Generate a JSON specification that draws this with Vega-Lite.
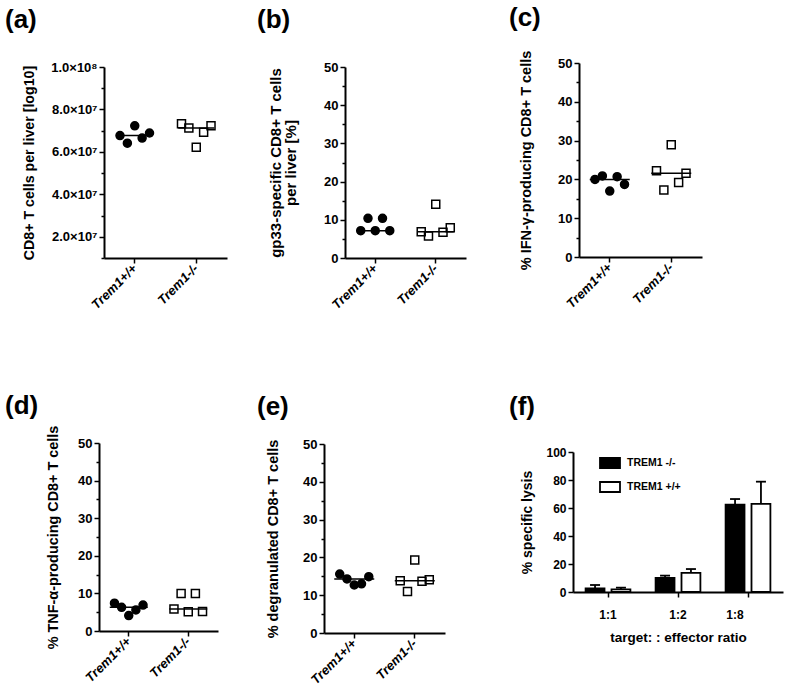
{
  "$schema": "https://vega.github.io/schema/vega-lite/v6.json",
  "background": "white",
  "padding": 5,
  "datasets": {
    "a": [
      {"group": "Trem1+/+", "id": 1, "value": 67700000},
      {"group": "Trem1+/+", "id": 2, "value": 64100000},
      {"group": "Trem1+/+", "id": 3, "value": 72300000},
      {"group": "Trem1+/+", "id": 4, "value": 66500000},
      {"group": "Trem1+/+", "id": 5, "value": 68900000},
      {"group": "Trem1-/-", "id": 1, "value": 73300000},
      {"group": "Trem1-/-", "id": 2, "value": 71200000},
      {"group": "Trem1-/-", "id": 3, "value": 62200000},
      {"group": "Trem1-/-", "id": 4, "value": 69300000},
      {"group": "Trem1-/-", "id": 5, "value": 72300000}
    ],
    "b": [
      {"group": "Trem1+/+", "id": 1, "value": 7.15},
      {"group": "Trem1+/+", "id": 2, "value": 10.4},
      {"group": "Trem1+/+", "id": 3, "value": 7.15},
      {"group": "Trem1+/+", "id": 4, "value": 10.4},
      {"group": "Trem1+/+", "id": 5, "value": 7.15},
      {"group": "Trem1-/-", "id": 1, "value": 6.9},
      {"group": "Trem1-/-", "id": 2, "value": 5.76},
      {"group": "Trem1-/-", "id": 3, "value": 14.06},
      {"group": "Trem1-/-", "id": 4, "value": 6.72},
      {"group": "Trem1-/-", "id": 5, "value": 7.94}
    ],
    "c": [
      {"group": "Trem1+/+", "id": 1, "value": 20.0},
      {"group": "Trem1+/+", "id": 2, "value": 20.9},
      {"group": "Trem1+/+", "id": 3, "value": 17.0},
      {"group": "Trem1+/+", "id": 4, "value": 20.7},
      {"group": "Trem1+/+", "id": 5, "value": 18.7},
      {"group": "Trem1-/-", "id": 1, "value": 22.2},
      {"group": "Trem1-/-", "id": 2, "value": 17.3},
      {"group": "Trem1-/-", "id": 3, "value": 28.9},
      {"group": "Trem1-/-", "id": 4, "value": 19.2},
      {"group": "Trem1-/-", "id": 5, "value": 21.6}
    ],
    "d": [
      {"group": "Trem1+/+", "id": 1, "value": 7.4},
      {"group": "Trem1+/+", "id": 2, "value": 6.3},
      {"group": "Trem1+/+", "id": 3, "value": 4.1},
      {"group": "Trem1+/+", "id": 4, "value": 5.6},
      {"group": "Trem1+/+", "id": 5, "value": 6.9},
      {"group": "Trem1-/-", "id": 1, "value": 5.85},
      {"group": "Trem1-/-", "id": 2, "value": 10.0},
      {"group": "Trem1-/-", "id": 3, "value": 5.15},
      {"group": "Trem1-/-", "id": 4, "value": 10.0},
      {"group": "Trem1-/-", "id": 5, "value": 5.2}
    ],
    "e": [
      {"group": "Trem1+/+", "id": 1, "value": 15.6},
      {"group": "Trem1+/+", "id": 2, "value": 14.3},
      {"group": "Trem1+/+", "id": 3, "value": 12.7},
      {"group": "Trem1+/+", "id": 4, "value": 13.0},
      {"group": "Trem1+/+", "id": 5, "value": 14.9},
      {"group": "Trem1-/-", "id": 1, "value": 13.8},
      {"group": "Trem1-/-", "id": 2, "value": 11.0},
      {"group": "Trem1-/-", "id": 3, "value": 19.3},
      {"group": "Trem1-/-", "id": 4, "value": 13.7},
      {"group": "Trem1-/-", "id": 5, "value": 14.1}
    ],
    "f": [
      {"ratio": "1:1", "genotype": "TREM1 -/-", "mean": 2.6, "upper": 5.0},
      {"ratio": "1:1", "genotype": "TREM1 +/+", "mean": 1.9, "upper": 3.1},
      {"ratio": "1:2", "genotype": "TREM1 -/-", "mean": 10.0, "upper": 11.7},
      {"ratio": "1:2", "genotype": "TREM1 +/+", "mean": 13.6, "upper": 16.4},
      {"ratio": "1:8", "genotype": "TREM1 -/-", "mean": 62.4, "upper": 66.4},
      {"ratio": "1:8", "genotype": "TREM1 +/+", "mean": 62.9, "upper": 78.8}
    ]
  },
  "spacing": 81,
  "resolve": {"scale": {"xOffset": "independent", "fill": "independent", "shape": "independent"}, "legend": {"fill": "independent", "shape": "independent"}},
  "vconcat": [
    {
      "spacing": 0,
      "bounds": "flush",
      "resolve": {"scale": {"xOffset": "independent", "fill": "independent", "shape": "independent"}, "legend": {"fill": "independent", "shape": "independent"}},
      "hconcat": [
        {"width": 5, "height": 1, "data": {"values": [{}]}, "mark": {"type": "point", "opacity": 0}, "encoding": {}},
        {
          "width": 123, "height": 195,
          "data": {"name": "a"},
          "title": {"text": "(a)", "dx": -99, "offset": 28.5},
          "encoding": {
            "x": {"field": "group", "type": "nominal", "sort": ["Trem1+/+", "Trem1-/-"], "scale": {"type": "band", "paddingInner": 0.4, "paddingOuter": 0.2}, "axis": {"ticks": true}},
            "y": {"field": "value", "type": "quantitative", "scale": {"domain": [10000000, 100000000], "range": [195, 4], "nice": false, "zero": false},
                  "axis": {"title": "CD8+ T cells per liver [log10]", "titlePadding": 14, "titleFontSize": 14.2,
                           "values": [10000000, 20000000, 30000000, 40000000, 50000000, 60000000, 70000000, 80000000, 90000000, 100000000],
                           "labelExpr": "datum.value % 20000000 == 0 ? (datum.value == 100000000 ? '1.0×10⁸' : format(datum.value / 10000000, '.1f') + '×10⁷') : ''",
                           "labelFontSize": 13,
                           "tickSize": {"condition": {"test": "datum.value % 20000000 != 0", "value": 3}, "value": 5}}}
          },
          "layer": [
            {"transform": [{"aggregate": [{"op": "median", "field": "value", "as": "value"}], "groupby": ["group"]}],
             "mark": {"type": "tick", "size": 36, "thickness": 1.5, "color": "black", "opacity": 1}},
            {"mark": {"type": "point", "filled": true, "size": 64, "stroke": "black", "strokeWidth": 1.5, "opacity": 1},
             "encoding": {
               "xOffset": {"field": "id", "type": "nominal"},
               "shape": {"field": "group", "type": "nominal", "scale": {"domain": ["Trem1+/+", "Trem1-/-"], "range": ["circle", "square"]}, "legend": null},
               "fill": {"field": "group", "type": "nominal", "scale": {"domain": ["Trem1+/+", "Trem1-/-"], "range": ["black", "transparent"]}, "legend": null}
             }}
          ]
        },
        {"width": 118, "height": 1, "data": {"values": [{}]}, "mark": {"type": "point", "opacity": 0}, "encoding": {}},
        {
          "width": 121, "height": 195,
          "data": {"name": "b"},
          "title": {"text": "(b)", "dx": -88, "offset": 28.5},
          "encoding": {
            "x": {"field": "group", "type": "nominal", "sort": ["Trem1+/+", "Trem1-/-"], "scale": {"type": "band", "paddingInner": 0.4, "paddingOuter": 0.2}, "axis": {"ticks": true}},
            "y": {"field": "value", "type": "quantitative", "scale": {"domain": [0, 50], "range": [195, 4], "nice": false},
                  "axis": {"title": ["gp33-specific CD8+ T cells", "per liver [%]"], "titlePadding": 25, "titleLineHeight": 15, "titleFontSize": 15,
                           "values": [0, 5, 10, 15, 20, 25, 30, 35, 40, 45, 50],
                           "labelExpr": "datum.value % 10 == 0 ? datum.label : ''",
                           "tickSize": {"condition": {"test": "datum.value % 10 != 0", "value": 3}, "value": 5}}}
          },
          "layer": [
            {"transform": [{"aggregate": [{"op": "median", "field": "value", "as": "value"}], "groupby": ["group"]}],
             "mark": {"type": "tick", "size": 36, "thickness": 1.5, "color": "black", "opacity": 1}},
            {"mark": {"type": "point", "filled": true, "size": 64, "stroke": "black", "strokeWidth": 1.5, "opacity": 1},
             "encoding": {
               "xOffset": {"field": "id", "type": "nominal"},
               "shape": {"field": "group", "type": "nominal", "scale": {"domain": ["Trem1+/+", "Trem1-/-"], "range": ["circle", "square"]}, "legend": null},
               "fill": {"field": "group", "type": "nominal", "scale": {"domain": ["Trem1+/+", "Trem1-/-"], "range": ["black", "transparent"]}, "legend": null}
             }}
          ]
        },
        {"width": 113, "height": 1, "data": {"values": [{}]}, "mark": {"type": "point", "opacity": 0}, "encoding": {}},
        {
          "width": 123, "height": 194,
          "data": {"name": "c"},
          "title": {"text": "(c)", "dx": -70, "offset": 19},
          "encoding": {
            "x": {"field": "group", "type": "nominal", "sort": ["Trem1+/+", "Trem1-/-"], "scale": {"type": "band", "paddingInner": 0.4, "paddingOuter": 0.2}, "axis": {"ticks": true}},
            "y": {"field": "value", "type": "quantitative", "scale": {"domain": [0, 50], "nice": false},
                  "axis": {"title": "% IFN-γ-producing CD8+ T cells", "titlePadding": 24, "titleFontSize": 14.5,
                           "values": [0, 5, 10, 15, 20, 25, 30, 35, 40, 45, 50],
                           "labelExpr": "datum.value % 10 == 0 ? datum.label : ''",
                           "tickSize": {"condition": {"test": "datum.value % 10 != 0", "value": 3}, "value": 5}}}
          },
          "layer": [
            {"transform": [{"aggregate": [{"op": "median", "field": "value", "as": "value"}], "groupby": ["group"]}],
             "mark": {"type": "tick", "size": 40, "thickness": 1.5, "color": "black", "opacity": 1}},
            {"mark": {"type": "point", "filled": true, "size": 64, "stroke": "black", "strokeWidth": 1.5, "opacity": 1},
             "encoding": {
               "xOffset": {"field": "id", "type": "nominal"},
               "shape": {"field": "group", "type": "nominal", "scale": {"domain": ["Trem1+/+", "Trem1-/-"], "range": ["circle", "square"]}, "legend": null},
               "fill": {"field": "group", "type": "nominal", "scale": {"domain": ["Trem1+/+", "Trem1-/-"], "range": ["black", "transparent"]}, "legend": null}
             }}
          ]
        }
      ]
    },
    {
      "spacing": 0,
      "bounds": "flush",
      "resolve": {"scale": {"xOffset": "independent", "fill": "independent", "shape": "independent"}, "legend": {"fill": "independent", "shape": "independent"}},
      "hconcat": [
        {
          "width": 119, "height": 188,
          "data": {"name": "d"},
          "title": {"text": "(d)", "dx": -94, "offset": 6},
          "encoding": {
            "x": {"field": "group", "type": "nominal", "sort": ["Trem1+/+", "Trem1-/-"], "scale": {"type": "band", "paddingInner": 0.4, "paddingOuter": 0.2}, "axis": {"ticks": true}},
            "y": {"field": "value", "type": "quantitative", "scale": {"domain": [0, 50], "nice": false},
                  "axis": {"title": "% TNF-α-producing CD8+ T cells", "titlePadding": 17, "titleFontSize": 14.4,
                           "values": [0, 5, 10, 15, 20, 25, 30, 35, 40, 45, 50],
                           "labelExpr": "datum.value % 10 == 0 ? datum.label : ''",
                           "tickSize": {"condition": {"test": "datum.value % 10 != 0", "value": 3}, "value": 5}}}
          },
          "layer": [
            {"transform": [{"aggregate": [{"op": "median", "field": "value", "as": "value"}], "groupby": ["group"]}],
             "mark": {"type": "tick", "size": 38, "thickness": 1.5, "color": "black", "opacity": 1}},
            {"mark": {"type": "point", "filled": true, "size": 64, "stroke": "black", "strokeWidth": 1.5, "opacity": 1},
             "encoding": {
               "xOffset": {"field": "id", "type": "nominal"},
               "shape": {"field": "group", "type": "nominal", "scale": {"domain": ["Trem1+/+", "Trem1-/-"], "range": ["circle", "square"]}, "legend": null},
               "fill": {"field": "group", "type": "nominal", "scale": {"domain": ["Trem1+/+", "Trem1-/-"], "range": ["black", "transparent"]}, "legend": null}
             }}
          ]
        },
        {"width": 106, "height": 1, "data": {"values": [{}]}, "mark": {"type": "point", "opacity": 0}, "encoding": {}},
        {
          "width": 121, "height": 190,
          "data": {"name": "e"},
          "title": {"text": "(e)", "dx": -67, "offset": 17.5},
          "encoding": {
            "x": {"field": "group", "type": "nominal", "sort": ["Trem1+/+", "Trem1-/-"], "scale": {"type": "band", "paddingInner": 0.4, "paddingOuter": 0.2}, "axis": {"ticks": true}},
            "y": {"field": "value", "type": "quantitative", "scale": {"domain": [0, 50], "range": [190, 1], "nice": false},
                  "axis": {"title": "% degranulated  CD8+ T cells", "titlePadding": 22, "titleFontSize": 14.5,
                           "values": [0, 5, 10, 15, 20, 25, 30, 35, 40, 45, 50],
                           "labelExpr": "datum.value % 10 == 0 ? datum.label : ''",
                           "tickSize": {"condition": {"test": "datum.value % 10 != 0", "value": 3}, "value": 5}}}
          },
          "layer": [
            {"transform": [{"aggregate": [{"op": "median", "field": "value", "as": "value"}], "groupby": ["group"]}],
             "mark": {"type": "tick", "size": 40, "thickness": 1.5, "color": "black", "opacity": 1}},
            {"mark": {"type": "point", "filled": true, "size": 64, "stroke": "black", "strokeWidth": 1.5, "opacity": 1},
             "encoding": {
               "xOffset": {"field": "id", "type": "nominal"},
               "shape": {"field": "group", "type": "nominal", "scale": {"domain": ["Trem1+/+", "Trem1-/-"], "range": ["circle", "square"]}, "legend": null},
               "fill": {"field": "group", "type": "nominal", "scale": {"domain": ["Trem1+/+", "Trem1-/-"], "range": ["black", "transparent"]}, "legend": null}
             }}
          ]
        },
        {"width": 128, "height": 1, "data": {"values": [{}]}, "mark": {"type": "point", "opacity": 0}, "encoding": {}},
        {
          "width": 210, "height": 149,
          "data": {"name": "f"},
          "title": {"text": "(f)", "dx": -64, "offset": 23},
          "encoding": {
            "x": {"field": "ratio", "type": "nominal", "sort": ["1:1", "1:2", "1:8"], "scale": {"type": "band", "paddingInner": 0.36, "paddingOuter": 0.18},
                  "axis": {"ticks": true, "title": "target: : effector ratio", "labelAngle": 0, "labelFontStyle": "normal", "labelAlign": "center", "labelBaseline": "top",
                           "labelFontSize": 12, "labelPadding": 12, "titlePadding": 10, "titleFontSize": 13.5,
                           "labelOffset": {"condition": {"test": "datum.value == '1:8'", "value": -13}, "value": 0}}},
            "xOffset": {"field": "genotype", "type": "nominal", "sort": ["TREM1 -/-", "TREM1 +/+"], "scale": {"type": "band", "paddingInner": 0.27, "paddingOuter": 0}},
            "y": {"field": "mean", "type": "quantitative", "scale": {"domain": [0, 100], "range": [149, 9], "nice": false},
                  "axis": {"title": "% specific lysis", "values": [0, 20, 40, 60, 80, 100], "labelFontSize": 12, "titleFontSize": 14, "titlePadding": 11}}
          },
          "layer": [
            {"mark": {"type": "bar", "width": 1.8, "color": "black"},
             "encoding": {"y": {"field": "upper", "type": "quantitative", "scale": {"domain": [0, 100], "range": [149, 9], "nice": false},
                  "axis": {"title": "% specific lysis", "values": [0, 20, 40, 60, 80, 100], "labelFontSize": 12, "titleFontSize": 14, "titlePadding": 11}},
                          "y2": {"field": "mean"}}},
            {"mark": {"type": "tick", "size": 10, "thickness": 1.8, "color": "black", "opacity": 1},
             "encoding": {"y": {"field": "upper", "type": "quantitative", "scale": {"domain": [0, 100], "range": [149, 9], "nice": false},
                  "axis": {"title": "% specific lysis", "values": [0, 20, 40, 60, 80, 100], "labelFontSize": 12, "titleFontSize": 14, "titlePadding": 11}}}},
            {"mark": {"type": "bar", "stroke": "black", "strokeWidth": 1.8},
             "encoding": {
               "fill": {"field": "genotype", "type": "nominal", "scale": {"domain": ["TREM1 -/-", "TREM1 +/+"], "range": ["black", "white"]},
                        "legend": {"orient": "none", "legendX": 31, "legendY": 14, "title": null, "padding": 0,
                                   "symbolType": "M-2,-1H2V1H-2Z", "symbolSize": 100, "symbolStrokeColor": "black", "symbolStrokeWidth": 1.8,
                                   "labelFont": "Liberation Sans", "labelFontSize": 10.5, "labelFontWeight": "bold", "labelColor": "black",
                                   "labelOffset": 11, "rowPadding": 6}}
             }}
          ]
        }
      ]
    }
  ],
  "config": {
    "view": {"stroke": null},
    "font": "Liberation Sans",
    "title": {"font": "Liberation Sans", "fontSize": 26, "fontWeight": "bold", "color": "black", "anchor": "start", "frame": "group"},
    "axis": {
      "grid": false, "domainColor": "black", "domainWidth": 2, "tickColor": "black", "tickWidth": 1.5, "tickSize": 5,
      "labelColor": "black", "labelFont": "Liberation Sans", "labelFontWeight": "bold", "labelFontSize": 13, "labelPadding": 2, "labelOverlap": false,
      "titleFont": "Liberation Sans", "titleFontWeight": "bold", "titleFontSize": 14, "titleColor": "black"
    },
    "axisX": {"labelAngle": -45, "labelFontStyle": "italic", "labelAlign": "right", "labelBaseline": "middle", "labelPadding": 3, "title": null, "labelFontSize": 13}
  }
}
